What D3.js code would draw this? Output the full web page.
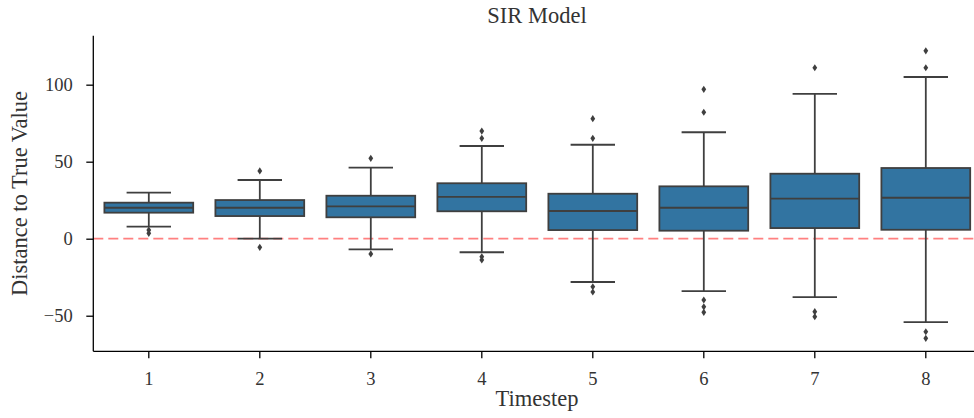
<!DOCTYPE html>
<html>
<head>
<meta charset="utf-8">
<script src="https://cdn.jsdelivr.net/npm/d3@7"></script>
<style>
  html, body { margin: 0; padding: 0; background: #fff; }
  svg { display: block; }
  text { font-family: "Liberation Serif", "DejaVu Serif", serif; fill: #333; }
</style>
</head>
<body>
<svg id="chart" width="974" height="418"></svg>
<script>
const categories = ["1", "2", "3", "4", "5", "6", "7", "8"];
const whiskerLow  = [7.8, 0.0, -6.9, -8.8, -28.1, -34.0, -37.9, -54.1];
const q1          = [16.9, 14.7, 13.9, 17.8, 5.6, 5.2, 6.9, 5.8];
const median      = [20.1, 20.1, 21.0, 27.1, 18.0, 20.1, 26.0, 26.6];
const q3          = [23.4, 25.1, 27.9, 36.0, 29.2, 34.0, 42.2, 45.9];
const whiskerHigh = [29.9, 38.1, 46.1, 60.2, 61.0, 69.1, 94.0, 105.0];
const outliers    = [
  [5.6, 3.5],
  [44.0, -5.6],
  [52.2, -9.9],
  [69.9, 65.2, -11.7, -13.8],
  [77.9, 65.2, -31.2, -34.6],
  [97.0, 82.1, -39.8, -44.2, -47.8],
  [111.0, -47.4, -50.6],
  [122.0, 111.0, -60.4, -64.7]
];
const yTicks = [-50, 0, 50, 100];
const yDomain = [-73.1, 131.8];
const title = "SIR Model";
const xLabel = "Timestep";
const yLabel = "Distance to True Value";

const svg = d3.select("#chart");
const mLeft = 93.3, mRight = 981.3, mTop = 35.7, mBottom = 351.3;

const x = d3.scaleBand().domain(categories).range([mLeft, mRight]).padding(0);
const y = d3.scaleLinear().domain(yDomain).range([mBottom, mTop]);

const boxColor = "#3274a1", lineColor = "#3f3f3f";
const bw = x.bandwidth() * 0.8;
const lw = 1.8;

// reference line at 0
svg.append("line")
  .attr("x1", mLeft).attr("x2", 974)
  .attr("y1", y(0)).attr("y2", y(0))
  .attr("stroke", "#ff8080").attr("stroke-width", lw)
  .attr("stroke-dasharray", "10,5");

const data = categories.map((c, i) => ({
  c, lo: whiskerLow[i], q1: q1[i], med: median[i], q3: q3[i], hi: whiskerHigh[i], out: outliers[i]
}));

const g = svg.append("g").selectAll("g").data(data).join("g");
const cx = d => x(d.c) + x.bandwidth() / 2;

// whiskers
g.append("line").attr("x1", cx).attr("x2", cx)
  .attr("y1", d => y(d.q3)).attr("y2", d => y(d.hi))
  .attr("stroke", lineColor).attr("stroke-width", lw);
g.append("line").attr("x1", cx).attr("x2", cx)
  .attr("y1", d => y(d.q1)).attr("y2", d => y(d.lo))
  .attr("stroke", lineColor).attr("stroke-width", lw);
// caps
g.append("line").attr("x1", d => cx(d) - bw / 4).attr("x2", d => cx(d) + bw / 4)
  .attr("y1", d => y(d.hi)).attr("y2", d => y(d.hi))
  .attr("stroke", lineColor).attr("stroke-width", lw);
g.append("line").attr("x1", d => cx(d) - bw / 4).attr("x2", d => cx(d) + bw / 4)
  .attr("y1", d => y(d.lo)).attr("y2", d => y(d.lo))
  .attr("stroke", lineColor).attr("stroke-width", lw);
// box
g.append("rect")
  .attr("x", d => cx(d) - bw / 2).attr("width", bw)
  .attr("y", d => y(d.q3)).attr("height", d => y(d.q1) - y(d.q3))
  .attr("fill", boxColor).attr("stroke", lineColor).attr("stroke-width", lw);
// median
g.append("line").attr("x1", d => cx(d) - bw / 2).attr("x2", d => cx(d) + bw / 2)
  .attr("y1", d => y(d.med)).attr("y2", d => y(d.med))
  .attr("stroke", lineColor).attr("stroke-width", lw);
// outliers (thin diamonds)
g.each(function(d) {
  d3.select(this).selectAll("path.out").data(d.out).join("path")
    .attr("class", "out")
    .attr("transform", v => `translate(${cx(d)},${y(v)})`)
    .attr("d", "M0,-3.6L2.4,0L0,3.6L-2.4,0Z")
    .attr("fill", lineColor);
});

// axes
const yAxis = d3.axisLeft(y).tickValues(yTicks).tickSize(7).tickPadding(13.6)
  .tickFormat(d => d < 0 ? "\u2212" + Math.abs(d) : d);
const ya = svg.append("g").attr("transform", `translate(${mLeft},0)`).call(yAxis);
ya.select(".domain").attr("d", `M0,${mTop}V${mBottom}`).attr("stroke", "#000").attr("stroke-width", 1.3);
ya.selectAll(".tick line").attr("stroke", "#000").attr("stroke-width", 1.3);
ya.selectAll(".tick text").attr("font-size", 18.5).attr("font-family", "Liberation Serif").attr("fill", "#333");

const xAxis = d3.axisBottom(x).tickSize(7).tickPadding(9);
const xa = svg.append("g").attr("transform", `translate(0,${mBottom})`).call(xAxis);
xa.select(".domain").attr("d", `M${mLeft},0H974`).attr("stroke", "#000").attr("stroke-width", 1.3);
xa.selectAll(".tick line").attr("stroke", "#000").attr("stroke-width", 1.3);
xa.selectAll(".tick text").attr("font-size", 18.5).attr("font-family", "Liberation Serif").attr("fill", "#333")
  .attr("dy", null).attr("y", 385 - mBottom);

svg.append("text").attr("x", 537).attr("y", 23.3).attr("text-anchor", "middle")
  .attr("font-size", 22.5).text(title);
svg.append("text").attr("x", 537).attr("y", 406).attr("text-anchor", "middle")
  .attr("font-size", 22.5).text(xLabel);
svg.append("text").attr("transform", "translate(27,193.5) rotate(-90)").attr("text-anchor", "middle")
  .attr("font-size", 22.5).text(yLabel);
</script>
</body>
</html>
